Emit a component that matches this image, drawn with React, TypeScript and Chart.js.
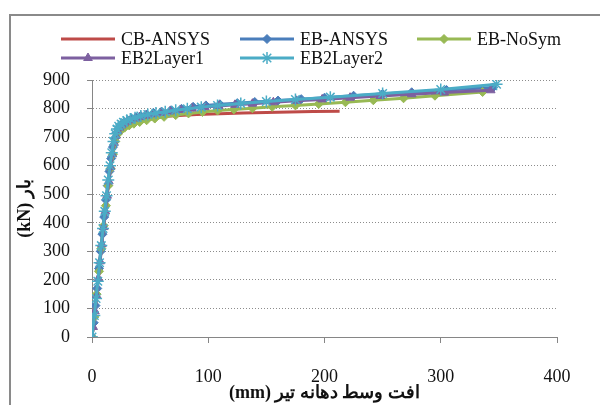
import React, { useEffect, useRef } from "react";
import { Chart, registerables } from "chart.js";
import { drawPoint } from "chart.js/helpers";

Chart.register(...registerables);

const seriesNames = ["CB-ANSYS", "EB-ANSYS", "EB-NoSym", "EB2Layer1", "EB2Layer2"];

const cbX = [0, 2, 4, 6, 8, 10, 12, 14, 16, 18, 20, 22, 24, 27, 30, 35, 40, 50, 60, 75, 90, 110, 130, 150, 170, 190, 213];
const cbY = [0, 75, 155, 235, 315, 395, 470, 540, 600, 650, 690, 715, 730, 742, 750, 757, 762, 768, 772, 776, 779, 782, 784, 786, 788, 790, 791];

const ebX = [0, 1.5, 3, 4.5, 6, 7.5, 9, 10.5, 12, 13.5, 15, 16.5, 18, 19.5, 21, 22.5, 24, 26, 28, 31, 34, 38, 42, 47, 53, 60, 68, 77, 87, 98, 110, 125, 140, 160, 180, 200, 225, 250, 275, 305, 345];
const ebY = [0, 50, 110, 170, 240, 300, 360, 420, 480, 530, 580, 625, 665, 695, 715, 728, 738, 746, 752, 758, 763, 769, 774, 779, 784, 789, 794, 799, 806, 811, 815, 819, 823, 828, 833, 838, 845, 851, 857, 865, 874];

const nsX = [0, 2, 4, 6, 8, 10, 12, 14, 16, 18, 20, 22, 25, 28, 32, 36, 41, 47, 54, 62, 72, 83, 95, 108, 122, 138, 155, 175, 195, 218, 242, 268, 295, 336];
const nsY = [0, 70, 150, 230, 310, 390, 460, 530, 590, 640, 685, 710, 724, 733, 741, 747, 753, 759, 765, 771, 777, 783, 788, 793, 797, 801, 806, 811, 816, 822, 829, 836, 845, 858];

const l1X = [0, 1, 2.5, 4, 5.5, 7, 8.5, 10, 11.5, 13, 14.5, 16, 17.5, 19, 20.5, 22, 23.5, 25.5, 27.5, 30, 33, 37, 41, 46, 52, 59, 67, 76, 86, 97, 109, 123, 138, 156, 176, 198, 222, 248, 275, 303, 343];
const l1Y = [0, 35, 90, 145, 205, 265, 325, 385, 440, 495, 545, 595, 640, 680, 705, 722, 733, 741, 748, 754, 759, 765, 770, 775, 780, 785, 790, 795, 800, 805, 809, 813, 817, 822, 827, 832, 838, 844, 850, 856, 864];

const l2X = [0, 2, 3.5, 5, 6.5, 8, 9.5, 11, 12.5, 14, 15.5, 17, 18.5, 20, 21.5, 23, 25, 27, 30, 33, 37, 42, 48, 55, 63, 72, 82, 94, 108, 128, 150, 175, 205, 250, 300, 348];
const l2Y = [0, 75, 135, 195, 260, 320, 380, 440, 495, 550, 600, 645, 685, 712, 728, 738, 746, 752, 758, 763, 768, 774, 779, 784, 789, 794, 799, 805, 811, 818, 825, 832, 840, 853, 867, 885];

const xTicks = [0, 100, 200, 300, 400];
const yTicks = [0, 100, 200, 300, 400, 500, 600, 700, 800, 900];

const xTitle = "(mm) افت وسط دهانه تیر";
const yTitle = "(kN) بار";

const SERIF = '"Liberation Serif", "Times New Roman", serif';

function pts(xs: number[], ys: number[]) {
  return xs.map((x, i) => ({ x, y: ys[i] }));
}

const legendPos: [number, number][] = [
  [61, 39],
  [240, 39],
  [417, 39],
  [61, 58],
  [240, 58],
];

const legendPlugin = {
  id: "customLegend",
  afterDraw(chart: any) {
    const ctx = chart.ctx;
    chart.data.datasets.forEach((ds: any, i: number) => {
      const [x, y] = legendPos[i];
      ctx.save();
      ctx.strokeStyle = ds.borderColor;
      ctx.lineWidth = 3;
      ctx.beginPath();
      ctx.moveTo(x, y);
      ctx.lineTo(x + 54, y);
      ctx.stroke();
      if (ds.pointRadius > 0) {
        ctx.fillStyle = ds.pointBackgroundColor;
        ctx.strokeStyle = ds.pointBorderColor;
        ctx.lineWidth = ds.pointBorderWidth;
        drawPoint(
          ctx,
          { pointStyle: ds.pointStyle, radius: ds.pointRadius, borderWidth: ds.pointBorderWidth, rotation: 0 } as any,
          x + 27,
          y
        );
      }
      ctx.fillStyle = "#111";
      ctx.font = "18px " + SERIF;
      ctx.textBaseline = "middle";
      ctx.textAlign = "left";
      ctx.fillText(ds.label, x + 60, y + 1);
      ctx.restore();
    });
  },
};

const framePlugin = {
  id: "frame",
  beforeDraw(chart: any) {
    const ctx = chart.ctx;
    ctx.save();
    ctx.fillStyle = "#ffffff";
    ctx.fillRect(0, 0, chart.width, chart.height);
    ctx.restore();
  },
  afterDraw(chart: any) {
    const ctx = chart.ctx;
    ctx.save();
    ctx.strokeStyle = "#8a8a8a";
    ctx.lineWidth = 2;
    ctx.strokeRect(10, 15, 700, 500);
    ctx.restore();
  },
};

export default function App() {
  const ref = useRef<HTMLCanvasElement>(null);

  useEffect(() => {
    if (!ref.current) return;
    const mk = (
      i: number,
      xs: number[],
      ys: number[],
      color: string,
      style: any,
      radius: number,
      pbw: number,
      order: number
    ) => ({
      label: seriesNames[i],
      data: pts(xs, ys),
      borderColor: color,
      backgroundColor: color,
      borderWidth: 3,
      pointStyle: style,
      pointRadius: radius,
      pointBackgroundColor: color,
      pointBorderColor: color,
      pointBorderWidth: pbw,
      pointHoverRadius: radius,
      tension: 0,
      fill: false,
      order,
    });

    const chart = new Chart(ref.current, {
      type: "line",
      data: {
        datasets: [
          mk(0, cbX, cbY, "#BE4B48", "circle", 0, 0, 5),
          mk(1, ebX, ebY, "#4A7EBB", "rectRot", 4.5, 1, 4),
          mk(2, nsX, nsY, "#98B954", "rectRot", 4.5, 1, 3),
          mk(3, l1X, l1Y, "#7D60A0", "triangle", 5, 1, 2),
          mk(4, l2X, l2Y, "#4BACC6", "star", 6, 1.5, 1),
        ] as any,
      },
      options: {
        responsive: false,
        animation: false,
        events: [],
        layout: { padding: { top: 80, right: 43, left: 0, bottom: 0 } },
        plugins: {
          legend: { display: false },
          tooltip: { enabled: false },
          title: { display: false },
        },
        scales: {
          x: {
            type: "linear",
            min: xTicks[0],
            max: xTicks[xTicks.length - 1],
            afterFit: (s: any) => {
              s.height = 68;
            },
            afterBuildTicks: (s: any) => {
              s.ticks = xTicks.map((v) => ({ value: v }));
            },
            ticks: {
              color: "#111",
              font: { family: SERIF, size: 18 },
              padding: 23,
              maxRotation: 0,
              autoSkip: false,
            },
            grid: {
              drawOnChartArea: false,
              drawTicks: true,
              tickLength: 6,
              color: "#868686",
              tickColor: "#868686",
            },
            border: { display: true, color: "#868686", width: 1 },
            title: {
              display: true,
              text: xTitle,
              color: "#111",
              font: { family: SERIF, size: 18, weight: "bold" },
              padding: { top: 0, bottom: 1 },
            },
          },
          y: {
            type: "linear",
            min: yTicks[0],
            max: yTicks[yTicks.length - 1],
            afterFit: (s: any) => {
              s.width = 92;
            },
            afterBuildTicks: (s: any) => {
              s.ticks = yTicks.map((v) => ({ value: v }));
            },
            ticks: {
              color: "#111",
              font: { family: SERIF, size: 18 },
              padding: 17,
              autoSkip: false,
            },
            grid: {
              drawOnChartArea: true,
              drawTicks: true,
              tickLength: 5,
              color: "#8c8c8c",
              tickColor: "#868686",
              lineWidth: 1,
            },
            border: { display: true, color: "#868686", width: 1, dash: [1, 2] },
            title: {
              display: true,
              text: yTitle,
              color: "#111",
              font: { family: SERIF, size: 18, weight: "bold" },
              padding: { top: 15, bottom: 0 },
            },
          },
        },
      } as any,
      plugins: [framePlugin, legendPlugin],
    });
    return () => chart.destroy();
  }, []);

  return (
    <div style={{ position: "fixed", left: 0, top: 0, width: 600, height: 405, background: "#fff" }}>
      <canvas ref={ref} width={600} height={405} style={{ display: "block", width: 600, height: 405 }} />
    </div>
  );
}
